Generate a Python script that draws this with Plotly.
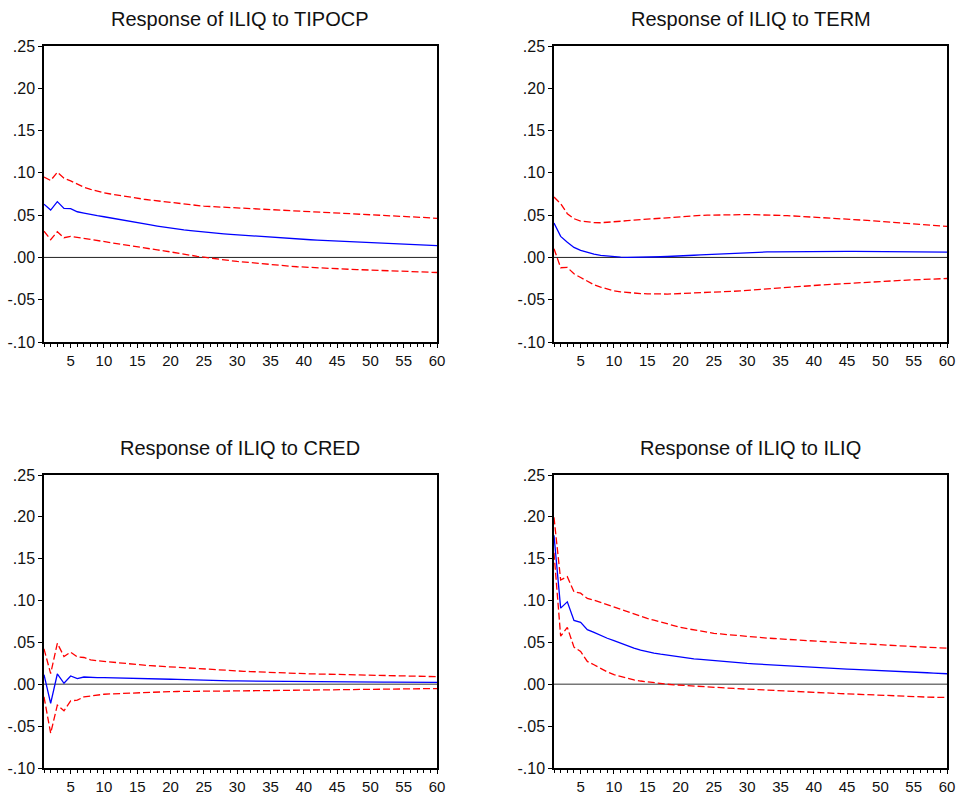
import plotly.graph_objects as go

# Horizon (periods after the shock)
periods = list(range(1, 61))

# Response of ILIQ to TIPOCP
tipocp_resp = [0.0630, 0.0560, 0.0660, 0.0580, 0.0577, 0.0540, 0.0525, 0.0507, 0.0494, 0.0481,
               0.0466, 0.0452, 0.0438, 0.0424, 0.0411, 0.0397, 0.0384, 0.0371, 0.0358, 0.0346,
               0.0335, 0.0325, 0.0316, 0.0307, 0.0299, 0.0291, 0.0285, 0.0279, 0.0273, 0.0267,
               0.0261, 0.0255, 0.0249, 0.0244, 0.0239, 0.0234, 0.0229, 0.0224, 0.0219, 0.0214,
               0.0209, 0.0204, 0.0200, 0.0196, 0.0192, 0.0188, 0.0184, 0.0180, 0.0176, 0.0172,
               0.0168, 0.0165, 0.0162, 0.0159, 0.0156, 0.0152, 0.0149, 0.0146, 0.0143, 0.0140]
tipocp_upper = [0.0950, 0.0910, 0.1007, 0.0936, 0.0905, 0.0865, 0.0830, 0.0806, 0.0783, 0.0764,
                0.0750, 0.0736, 0.0723, 0.0710, 0.0698, 0.0688, 0.0678, 0.0668, 0.0659, 0.0650,
                0.0640, 0.0630, 0.0622, 0.0614, 0.0606, 0.0602, 0.0598, 0.0593, 0.0589, 0.0585,
                0.0581, 0.0577, 0.0573, 0.0569, 0.0565, 0.0561, 0.0557, 0.0553, 0.0549, 0.0545,
                0.0542, 0.0539, 0.0536, 0.0533, 0.0530, 0.0526, 0.0522, 0.0518, 0.0514, 0.0510,
                0.0506, 0.0502, 0.0498, 0.0494, 0.0490, 0.0485, 0.0479, 0.0474, 0.0468, 0.0462]
tipocp_lower = [0.0310, 0.0210, 0.0304, 0.0233, 0.0249, 0.0236, 0.0230, 0.0217, 0.0202, 0.0187,
                0.0174, 0.0161, 0.0148, 0.0135, 0.0122, 0.0111, 0.0100, 0.0089, 0.0078, 0.0067,
                0.0053, 0.0039, 0.0026, 0.0013, 0.0001, -0.0009, -0.0019, -0.0029, -0.0038, -0.0047,
                -0.0055, -0.0063, -0.0071, -0.0079, -0.0087, -0.0093, -0.0099, -0.0104, -0.0110, -0.0115,
                -0.0119, -0.0123, -0.0127, -0.0130, -0.0134, -0.0137, -0.0141, -0.0144, -0.0147, -0.0150,
                -0.0153, -0.0156, -0.0160, -0.0163, -0.0166, -0.0169, -0.0171, -0.0174, -0.0176, -0.0178]

# Response of ILIQ to TERM
term_resp = [0.0407, 0.0249, 0.0180, 0.0118, 0.0083, 0.0059, 0.0040, 0.0024, 0.0015, 0.0008,
             0.0003, 0.0000, 0.0000, 0.0002, 0.0004, 0.0006, 0.0008, 0.0011, 0.0013, 0.0016,
             0.0021, 0.0026, 0.0031, 0.0035, 0.0040, 0.0044, 0.0048, 0.0052, 0.0056, 0.0059,
             0.0061, 0.0063, 0.0065, 0.0066, 0.0067, 0.0069, 0.0070, 0.0072, 0.0073, 0.0074,
             0.0074, 0.0074, 0.0073, 0.0073, 0.0072, 0.0071, 0.0070, 0.0069, 0.0068, 0.0067,
             0.0067, 0.0067, 0.0067, 0.0067, 0.0066, 0.0066, 0.0065, 0.0065, 0.0064, 0.0063]
term_upper = [0.0715, 0.0636, 0.0517, 0.0458, 0.0430, 0.0419, 0.0412, 0.0410, 0.0414, 0.0421,
              0.0428, 0.0434, 0.0441, 0.0447, 0.0454, 0.0460, 0.0467, 0.0473, 0.0480, 0.0486,
              0.0490, 0.0494, 0.0497, 0.0500, 0.0502, 0.0504, 0.0505, 0.0506, 0.0506, 0.0506,
              0.0505, 0.0504, 0.0502, 0.0500, 0.0498, 0.0494, 0.0490, 0.0486, 0.0482, 0.0478,
              0.0473, 0.0469, 0.0464, 0.0459, 0.0454, 0.0449, 0.0443, 0.0438, 0.0432, 0.0427,
              0.0421, 0.0416, 0.0410, 0.0405, 0.0399, 0.0393, 0.0386, 0.0380, 0.0373, 0.0367]
term_lower = [0.0103, -0.0122, -0.0118, -0.0194, -0.0237, -0.0284, -0.0324, -0.0351, -0.0375, -0.0395,
              -0.0408, -0.0417, -0.0423, -0.0427, -0.0430, -0.0433, -0.0434, -0.0433, -0.0430, -0.0427,
              -0.0425, -0.0422, -0.0420, -0.0419, -0.0416, -0.0410, -0.0405, -0.0400, -0.0395, -0.0390,
              -0.0385, -0.0379, -0.0374, -0.0369, -0.0364, -0.0358, -0.0351, -0.0345, -0.0338, -0.0332,
              -0.0326, -0.0321, -0.0315, -0.0310, -0.0304, -0.0299, -0.0294, -0.0290, -0.0285, -0.0280,
              -0.0277, -0.0274, -0.0271, -0.0268, -0.0265, -0.0262, -0.0258, -0.0255, -0.0252, -0.0249]

# Response of ILIQ to CRED
cred_resp = [0.0115, -0.0229, 0.0123, 0.0012, 0.0099, 0.0067, 0.0087, 0.0079, 0.0080, 0.0079,
             0.0078, 0.0076, 0.0074, 0.0072, 0.0070, 0.0068, 0.0066, 0.0064, 0.0062, 0.0060,
             0.0058, 0.0055, 0.0052, 0.0048, 0.0045, 0.0044, 0.0043, 0.0042, 0.0041, 0.0040,
             0.0039, 0.0039, 0.0038, 0.0037, 0.0036, 0.0036, 0.0035, 0.0034, 0.0034, 0.0033,
             0.0033, 0.0032, 0.0032, 0.0031, 0.0031, 0.0030, 0.0030, 0.0029, 0.0029, 0.0028,
             0.0028, 0.0027, 0.0027, 0.0026, 0.0025, 0.0025, 0.0024, 0.0023, 0.0023, 0.0022]
cred_upper = [0.0423, 0.0127, 0.0490, 0.0332, 0.0384, 0.0328, 0.0320, 0.0292, 0.0282, 0.0273,
              0.0265, 0.0257, 0.0249, 0.0241, 0.0233, 0.0228, 0.0222, 0.0217, 0.0211, 0.0206,
              0.0200, 0.0194, 0.0188, 0.0183, 0.0178, 0.0174, 0.0170, 0.0166, 0.0162, 0.0158,
              0.0155, 0.0152, 0.0148, 0.0145, 0.0142, 0.0139, 0.0136, 0.0132, 0.0129, 0.0126,
              0.0124, 0.0123, 0.0121, 0.0120, 0.0118, 0.0116, 0.0114, 0.0111, 0.0109, 0.0107,
              0.0105, 0.0104, 0.0102, 0.0101, 0.0099, 0.0097, 0.0096, 0.0094, 0.0093, 0.0091]
cred_lower = [-0.0150, -0.0585, -0.0249, -0.0316, -0.0198, -0.0190, -0.0150, -0.0138, -0.0128, -0.0119,
              -0.0115, -0.0111, -0.0107, -0.0103, -0.0099, -0.0097, -0.0094, -0.0092, -0.0089, -0.0087,
              -0.0086, -0.0084, -0.0083, -0.0083, -0.0083, -0.0082, -0.0081, -0.0081, -0.0080, -0.0079,
              -0.0078, -0.0077, -0.0077, -0.0076, -0.0075, -0.0074, -0.0074, -0.0073, -0.0072, -0.0071,
              -0.0070, -0.0070, -0.0069, -0.0068, -0.0067, -0.0066, -0.0066, -0.0065, -0.0064, -0.0063,
              -0.0062, -0.0061, -0.0060, -0.0059, -0.0058, -0.0057, -0.0055, -0.0054, -0.0052, -0.0051]

# Response of ILIQ to ILIQ
iliq_resp = [0.1780, 0.0910, 0.0985, 0.0763, 0.0740, 0.0653, 0.0621, 0.0581, 0.0550, 0.0522,
             0.0491, 0.0461, 0.0433, 0.0408, 0.0386, 0.0372, 0.0359, 0.0347, 0.0335, 0.0324,
             0.0313, 0.0304, 0.0297, 0.0289, 0.0282, 0.0275, 0.0268, 0.0261, 0.0255, 0.0249,
             0.0244, 0.0239, 0.0234, 0.0229, 0.0225, 0.0220, 0.0215, 0.0210, 0.0206, 0.0201,
             0.0197, 0.0193, 0.0189, 0.0186, 0.0182, 0.0179, 0.0176, 0.0172, 0.0169, 0.0166,
             0.0162, 0.0158, 0.0154, 0.0150, 0.0146, 0.0142, 0.0138, 0.0134, 0.0130, 0.0126]
iliq_upper = [0.1994, 0.1246, 0.1286, 0.1104, 0.1088, 0.1025, 0.1005, 0.0977, 0.0947, 0.0918,
              0.0890, 0.0862, 0.0836, 0.0811, 0.0787, 0.0765, 0.0743, 0.0721, 0.0700, 0.0680,
              0.0664, 0.0648, 0.0633, 0.0621, 0.0609, 0.0601, 0.0593, 0.0585, 0.0577, 0.0569,
              0.0563, 0.0558, 0.0552, 0.0547, 0.0541, 0.0536, 0.0531, 0.0527, 0.0522, 0.0517,
              0.0512, 0.0508, 0.0503, 0.0499, 0.0494, 0.0490, 0.0486, 0.0482, 0.0478, 0.0474,
              0.0469, 0.0464, 0.0460, 0.0455, 0.0450, 0.0446, 0.0442, 0.0439, 0.0435, 0.0431]
iliq_lower = [0.1570, 0.0574, 0.0680, 0.0443, 0.0392, 0.0273, 0.0233, 0.0186, 0.0148, 0.0115,
              0.0091, 0.0069, 0.0052, 0.0039, 0.0028, 0.0018, 0.0009, 0.0001, -0.0006, -0.0012,
              -0.0018, -0.0023, -0.0028, -0.0032, -0.0035, -0.0040, -0.0045, -0.0050, -0.0054, -0.0059,
              -0.0064, -0.0069, -0.0074, -0.0078, -0.0083, -0.0086, -0.0089, -0.0093, -0.0096, -0.0099,
              -0.0102, -0.0105, -0.0108, -0.0111, -0.0114, -0.0118, -0.0122, -0.0126, -0.0130, -0.0134,
              -0.0137, -0.0140, -0.0144, -0.0147, -0.0150, -0.0152, -0.0153, -0.0155, -0.0156, -0.0158]

titles = ["Response of ILIQ to TIPOCP", "Response of ILIQ to TERM",
          "Response of ILIQ to CRED", "Response of ILIQ to ILIQ"]
y_tick_values = [-0.10, -0.05, 0.00, 0.05, 0.10, 0.15, 0.20, 0.25]
y_tick_labels = ["-.10", "-.05", ".00", ".05", ".10", ".15", ".20", ".25"]
x_tick_values = [5, 10, 15, 20, 25, 30, 35, 40, 45, 50, 55, 60]

panels = [
    (tipocp_resp, tipocp_upper, tipocp_lower),
    (term_resp, term_upper, term_lower),
    (cred_resp, cred_upper, cred_lower),
    (iliq_resp, iliq_upper, iliq_lower),
]

W, H = 956, 797
# Pixel boxes of the four panels: (left, right, top, bottom)
boxes = [(44, 437, 46, 342), (554, 947, 46, 342),
         (44, 437, 475, 768), (554, 947, 475, 768)]
zero_colors = ["#222222", "#222222", "#777777", "#777777"]
zero_widths = [1, 1, 1.6, 1.6]

FONT = "Liberation Sans, Arial, sans-serif"

fig = go.Figure()
layout = dict(
    width=W, height=H,
    margin=dict(l=0, r=0, t=0, b=0, pad=0),
    paper_bgcolor="white", plot_bgcolor="white",
    showlegend=False,
    font=dict(family=FONT, color="#111111", size=16),
    annotations=[], shapes=[],
)

for i, ((resp, up, lo), (l, r, t, b)) in enumerate(zip(panels, boxes)):
    n = "" if i == 0 else str(i + 1)
    xa, ya = "x" + n, "y" + n
    for series, color, dash in ((up, "#FF0000", "7px,3px"),
                                (lo, "#FF0000", "7px,3px"),
                                (resp, "#0000FF", "solid")):
        fig.add_trace(go.Scatter(x=periods, y=series, mode="lines",
                                 line=dict(color=color, width=1.3, dash=dash),
                                 xaxis=xa, yaxis=ya, hoverinfo="skip"))
    layout["xaxis" + n] = dict(
        domain=[l / W, r / W], anchor=ya, range=[1, 60],
        showgrid=False, zeroline=False, automargin=False,
        showline=True, linecolor="black", linewidth=1.5, mirror=True,
        tickvals=x_tick_values, ticks="outside", ticklen=4, tickwidth=1,
        tickcolor="black", tickfont=dict(size=15, family=FONT),
        minor=dict(dtick=1, tick0=0, ticks="outside", ticklen=3,
                   tickwidth=1, tickcolor="black", showgrid=False),
    )
    layout["yaxis" + n] = dict(
        domain=[1 - b / H, 1 - t / H], anchor=xa, range=[-0.10, 0.25],
        showgrid=False, zeroline=False, automargin=False,
        showline=True, linecolor="black", linewidth=1.5, mirror=True,
        tickvals=y_tick_values, ticktext=y_tick_labels,
        ticks="outside", ticklen=4, tickwidth=1, tickcolor="black",
        tickfont=dict(size=16, family=FONT),
    )
    layout["shapes"].append(dict(type="line", xref=xa, yref=ya,
                                 x0=1, x1=60, y0=0, y1=0, layer="below",
                                 line=dict(color=zero_colors[i], width=zero_widths[i])))
    layout["annotations"].append(dict(
        text=titles[i], xref="paper", yref="paper",
        x=(l + r) / 2 / W, y=1 - (t - 27) / H,
        xanchor="center", yanchor="middle", showarrow=False,
        font=dict(size=20, family=FONT, color="#111111")))

fig.update_layout(**layout)
fig.write_html("out.html")
